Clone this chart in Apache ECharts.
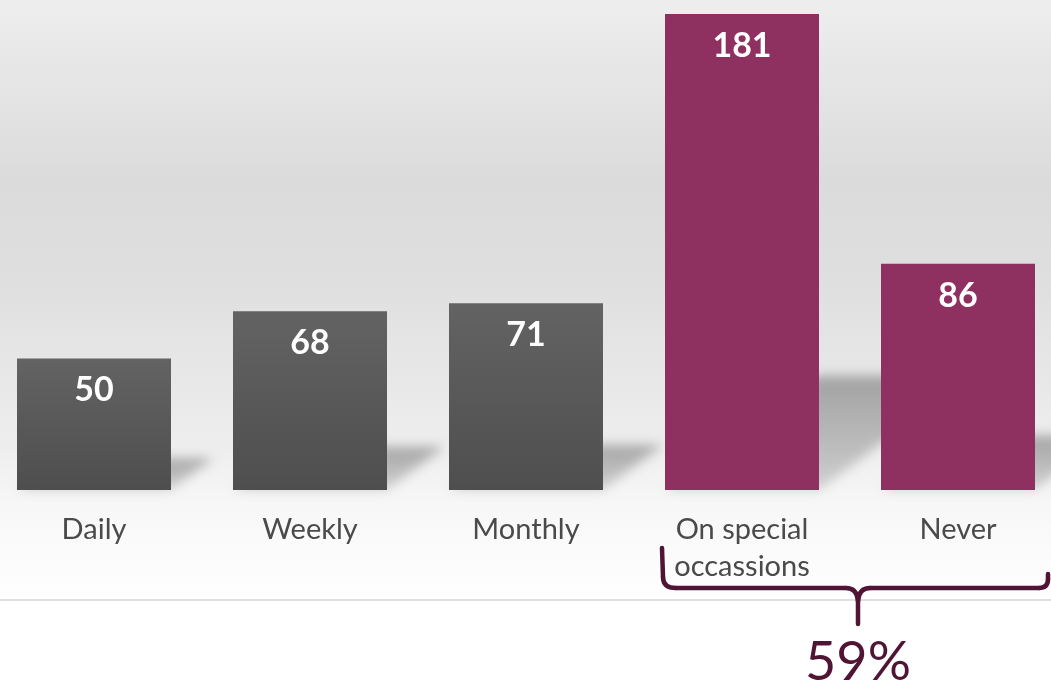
<!DOCTYPE html>
<html>
<head>
<meta charset="utf-8">
<script src="https://cdn.jsdelivr.net/npm/echarts@6/dist/echarts.min.js"></script>
<style>
  html, body { margin: 0; padding: 0; background: #fff; overflow: hidden; }
  /* chart is a little wider than the window so the outer bars sit near the edges */
  #chart { position: absolute; left: -14px; top: 0; width: 1080px; height: 687px; }
</style>
</head>
<body>
<div id="chart"></div>
<script>
// how often - answers per category
const categories = ["Daily", "Weekly", "Monthly", "On special\noccassions", "Never"];
const counts = [50, 68, 71, 181, 86];
const highlighted = [false, false, false, true, true];

const FONT = "Lato";
const PURPLE = "#8e3160";
const DARK_PURPLE = "#501434";
const BAR_W = 154;
const OX = 14; // page x -> chart x

// share of the highlighted group, shown under the bracket
const total = counts.reduce((a, b) => a + b, 0);
const hiSum = counts.filter((v, i) => highlighted[i]).reduce((a, b) => a + b, 0);
const share = Math.round((hiSum / total) * 100) + "%";

const grayFill = new echarts.graphic.LinearGradient(0, 0, 0, 1, [
    { offset: 0, color: "#636363" },
    { offset: 1, color: "#4e4e4e" }
]);

const chart = echarts.init(document.getElementById("chart"));

const bracketStyle = { stroke: DARK_PURPLE, lineWidth: 4.5, lineCap: "round", fill: null };
function seg(type, shape) {
    const s = {};
    for (let k in shape) {
        s[k] = /^(x|cpx)/.test(k) ? shape[k] + OX : shape[k];
    }
    return { type: type, z: 10, silent: true, shape: s, style: bracketStyle };
}

const option = {
    animation: false,
    grid: { left: 0, right: 0, top: 14, bottom: 197 },
    xAxis: {
        type: "category",
        data: categories,
        axisLine: { show: false },
        axisTick: { show: false },
        axisLabel: {
            color: "#4a4a4a",
            fontSize: 29,
            fontFamily: FONT,
            lineHeight: 37,
            margin: 21,
            interval: 0
        }
    },
    yAxis: {
        type: "value",
        min: 0,
        max: 181,
        show: false,
        splitLine: { show: false }
    },
    graphic: [
        {
            type: "rect",
            z: -10,
            silent: true,
            shape: { x: 0, y: 0, width: 1080, height: 600 },
            style: {
                fill: new echarts.graphic.LinearGradient(0, 0, 0, 1, [
                    { offset: 0, color: "#eeeeee" },
                    { offset: 0.3, color: "#dbdbdb" },
                    { offset: 0.45, color: "#dedede" },
                    { offset: 0.6, color: "#e6e6e6" },
                    { offset: 0.75, color: "#eeeeee" },
                    { offset: 0.84, color: "#f7f7f7" },
                    { offset: 1, color: "#ffffff" }
                ])
            }
        },
        {
            type: "line",
            z: -5,
            silent: true,
            shape: { x1: 0, y1: 600, x2: 1080, y2: 600 },
            style: { stroke: "#d6d6d6", lineWidth: 1.5 }
        },
        // bracket under the highlighted bars
        seg("line", { x1: 662, y1: 548, x2: 663, y2: 577 }),
        seg("bezierCurve", { x1: 663, y1: 577, cpx1: 663, cpy1: 588, x2: 676, y2: 588 }),
        seg("line", { x1: 676, y1: 588, x2: 846, y2: 588 }),
        seg("bezierCurve", { x1: 846, y1: 588, cpx1: 857, cpy1: 588, x2: 858, y2: 601 }),
        seg("bezierCurve", { x1: 870, y1: 588, cpx1: 859, cpy1: 588, x2: 858, y2: 601 }),
        seg("line", { x1: 858, y1: 601, x2: 858, y2: 624 }),
        seg("line", { x1: 870, y1: 588, x2: 1039, y2: 588 }),
        seg("bezierCurve", { x1: 1039, y1: 588, cpx1: 1048, cpy1: 588, x2: 1048, y2: 579 }),
        seg("line", { x1: 1048, y1: 579, x2: 1048, y2: 574 }),
        {
            type: "text",
            z: 10,
            x: 858 + OX,
            y: 663,
            style: {
                text: share,
                fill: DARK_PURPLE,
                font: "54px " + FONT,
                textAlign: "center",
                textVerticalAlign: "middle"
            }
        }
    ],
    series: [
        {
            // soft perspective shadows thrown to the right of each bar:
            // the shape is drawn far off to the side, only its blurred shadow lands here
            type: "custom",
            z: 1,
            silent: true,
            data: counts.map((v, i) => [i, v]),
            renderItem(params, api) {
                const base = api.coord([api.value(0), 0]);
                const top = api.coord([api.value(0), api.value(1)]);
                const h = base[1] - top[1];
                const x0 = base[0] - BAR_W / 2;
                const x1 = base[0] + BAR_W / 2;
                const dx = h * 0.32;
                const dy = h * 0.24;
                const off = 3000;
                return {
                    type: "polygon",
                    shape: {
                        points: [
                            [x0 + off, base[1]],
                            [x1 + off, base[1]],
                            [x1 + dx + off, base[1] - dy],
                            [x0 + dx + off, base[1] - dy]
                        ]
                    },
                    style: {
                        fill: new echarts.graphic.LinearGradient(0, 0, 0, 1, [
                            { offset: 0, color: "rgba(0,0,0,1)" },
                            { offset: 1, color: "rgba(0,0,0,0.5)" }
                        ]),
                        shadowBlur: 12,
                        shadowOffsetX: -off,
                        shadowColor: "rgba(0,0,0,0.3)"
                    }
                };
            }
        },
        {
            type: "bar",
            z: 5,
            barWidth: BAR_W,
            data: counts.map((v, i) => ({
                value: v,
                itemStyle: { color: highlighted[i] ? PURPLE : grayFill }
            })),
            label: {
                show: true,
                position: "insideTop",
                distance: 15,
                color: "#ffffff",
                fontSize: 34,
                fontWeight: "bold",
                fontFamily: FONT
            }
        }
    ]
};

chart.setOption(option);
</script>
</body>
</html>
